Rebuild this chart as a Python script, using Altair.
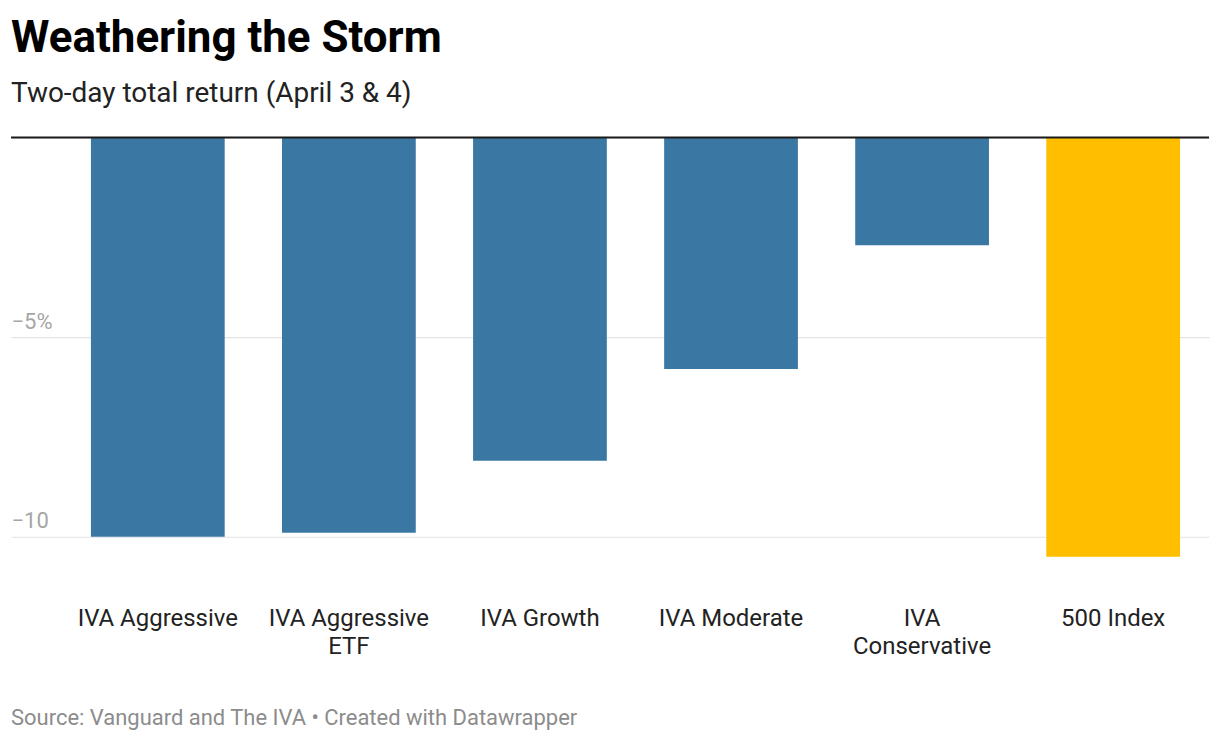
import altair as alt
import pandas as pd

categories = ["IVA Aggressive", "IVA Aggressive ETF", "IVA Growth",
              "IVA Moderate", "IVA Conservative", "500 Index"]
returns = [-10.0, -9.9, -8.1, -5.8, -2.7, -10.5]
colors = ["#3b77a3", "#3b77a3", "#3b77a3", "#3b77a3", "#3b77a3", "#ffbf00"]
y_ticks = [0, -5, -10]

df = pd.DataFrame({"fund": categories, "ret": returns, "color": colors})

FONT = "Roboto"

label_expr = (
    "datum.label == 'IVA Aggressive ETF' ? ['IVA Aggressive', 'ETF'] : "
    "datum.label == 'IVA Conservative' ? ['IVA', 'Conservative'] : datum.label"
)

base = alt.Chart(df)

bars = base.mark_bar().encode(
    x=alt.X("fund:N", sort=categories,
            scale=alt.Scale(paddingInner=0.3, paddingOuter=0.285, align=0.734),
            axis=alt.Axis(title=None, domain=False, ticks=False, labelAngle=0,
                          labelFont=FONT, labelFontSize=24, labelColor="#222",
                          labelPadding=50, labelLineHeight=28,
                          labelExpr=label_expr, labelLimit=400)),
    y=alt.Y("ret:Q", scale=alt.Scale(domain=[-10.5, 0], nice=False),
            axis=alt.Axis(title=None, domain=False, ticks=False, values=y_ticks,
                          grid=True, gridColor="#e3e3e3", gridWidth=1.2,
                          labelAlign="left", labelBaseline="alphabetic",
                          labelPadding=0, labelOffset=-9,
                          labelFont=FONT, labelFontSize=22, labelColor="#a6a6a6",
                          labelExpr="datum.value == -5 ? '−5%' : datum.value == -10 ? '−10' : ''")),
    color=alt.Color("color:N", scale=None, legend=None),
)

zero = alt.Chart(pd.DataFrame({"z": [0]})).mark_rule(color="#1a1a1a", strokeWidth=2).encode(
    y=alt.Y("z:Q")
)

footer = alt.Chart(pd.DataFrame({"t": ["Source: Vanguard and The IVA • Created with Datawrapper"]})).mark_text(
    align="left", baseline="alphabetic", font=FONT, fontSize=22, color="#8c8c8c"
).encode(
    text="t:N", x=alt.value(0), y=alt.value(589)
)

chart = alt.layer(bars, zero, footer).properties(
    width=1200, height=420,
    background="white",
    padding={"left": 2, "top": 8, "right": 2, "bottom": 6},
    title=alt.TitleParams(
        text="Weathering the Storm",
        subtitle="Two-day total return (April 3 & 4)",
        anchor="start", frame="group",
        font=FONT, fontSize=44, fontWeight="bold", color="#000",
        subtitleFont=FONT, subtitleFontSize=28, subtitleColor="#222",
        subtitlePadding=20, offset=28,
    ),
).configure_view(strokeWidth=0, stroke="transparent").configure_axis(
    domain=False, ticks=False
)

chart.save("out.html", embed_options={"renderer": "svg", "actions": False})
